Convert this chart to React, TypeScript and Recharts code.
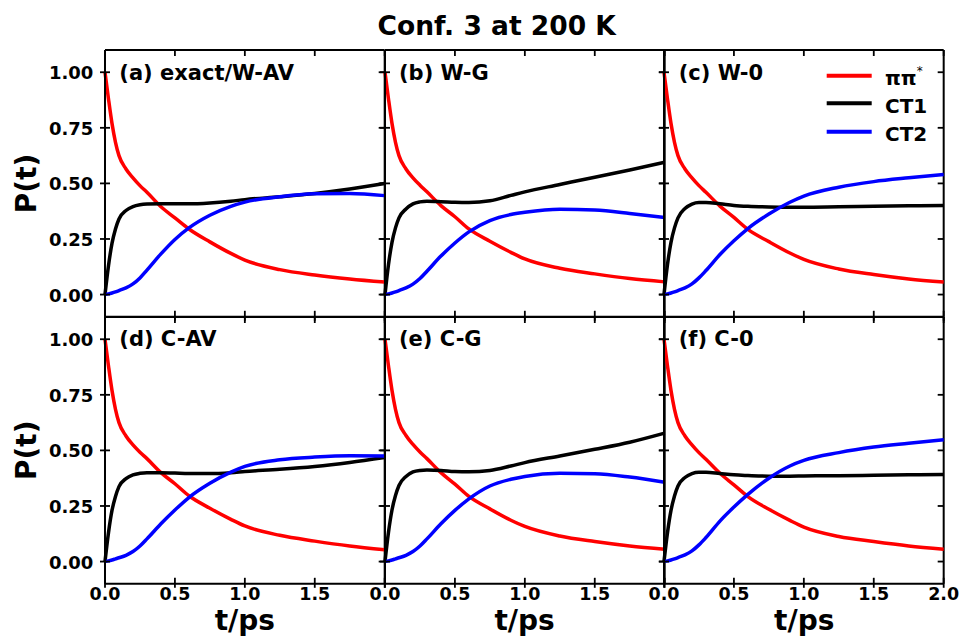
import React from "react";
import { LineChart, Line, XAxis, YAxis, ReferenceLine, Legend } from "recharts";

// time grid (ps), shared by every panel
const TIME = [0, 0.025, 0.05, 0.075, 0.1, 0.15, 0.2, 0.25, 0.3, 0.4, 0.5, 0.6, 0.75, 0.9, 1.0, 1.25, 1.5, 1.75, 2.0];

const X_TICKS = [0, 0.5, 1, 1.5, 2];
const Y_TICKS = [0, 0.25, 0.5, 0.75, 1];

// (a) exact/W-AV
const redA = [1.0, 0.88, 0.77, 0.685, 0.625, 0.565, 0.525, 0.49, 0.46, 0.395, 0.345, 0.295, 0.237, 0.185, 0.155, 0.112, 0.088, 0.07, 0.056];
const ct1A = [0, 0.13, 0.23, 0.295, 0.34, 0.378, 0.396, 0.404, 0.407, 0.408, 0.408, 0.408, 0.412, 0.42, 0.427, 0.44, 0.455, 0.475, 0.5];
const ct2A = [0, 0.003, 0.007, 0.012, 0.018, 0.03, 0.048, 0.075, 0.11, 0.183, 0.248, 0.3, 0.357, 0.397, 0.416, 0.44, 0.453, 0.455, 0.445];

// (b) W-G
const redB = [1.0, 0.88, 0.77, 0.685, 0.625, 0.565, 0.525, 0.492, 0.462, 0.4, 0.35, 0.295, 0.24, 0.19, 0.16, 0.118, 0.093, 0.072, 0.057];
const ct1B = [0, 0.135, 0.235, 0.3, 0.345, 0.385, 0.408, 0.417, 0.42, 0.418, 0.415, 0.414, 0.422, 0.446, 0.462, 0.495, 0.528, 0.56, 0.595];
const ct2B = [0, 0.003, 0.007, 0.012, 0.018, 0.03, 0.047, 0.072, 0.105, 0.173, 0.232, 0.282, 0.333, 0.36, 0.37, 0.384, 0.38, 0.365, 0.347];

// (c) W-0
const redC = [1.0, 0.88, 0.77, 0.685, 0.625, 0.565, 0.525, 0.49, 0.46, 0.398, 0.347, 0.293, 0.238, 0.187, 0.158, 0.115, 0.09, 0.07, 0.056];
const ct1C = [0, 0.135, 0.235, 0.3, 0.345, 0.387, 0.407, 0.414, 0.414, 0.408, 0.401, 0.397, 0.394, 0.393, 0.393, 0.395, 0.397, 0.399, 0.401];
const ct2C = [0, 0.003, 0.007, 0.012, 0.018, 0.03, 0.048, 0.075, 0.108, 0.18, 0.242, 0.297, 0.362, 0.415, 0.443, 0.483, 0.508, 0.525, 0.54];

// (d) C-AV
const redD = [1.0, 0.88, 0.77, 0.685, 0.625, 0.565, 0.525, 0.492, 0.463, 0.4, 0.35, 0.296, 0.24, 0.19, 0.16, 0.118, 0.092, 0.07, 0.053];
const ct1D = [0, 0.13, 0.23, 0.293, 0.337, 0.373, 0.39, 0.397, 0.4, 0.4, 0.398, 0.396, 0.396, 0.4, 0.405, 0.415, 0.428, 0.446, 0.468];
const ct2D = [0, 0.003, 0.007, 0.012, 0.017, 0.028, 0.045, 0.07, 0.102, 0.17, 0.232, 0.288, 0.352, 0.402, 0.428, 0.458, 0.47, 0.476, 0.475];

// (e) C-G
const redE = [1.0, 0.88, 0.77, 0.685, 0.625, 0.567, 0.527, 0.493, 0.463, 0.4, 0.348, 0.293, 0.237, 0.186, 0.158, 0.115, 0.09, 0.07, 0.055];
const ct1E = [0, 0.132, 0.232, 0.297, 0.342, 0.383, 0.403, 0.41, 0.412, 0.41, 0.405, 0.404, 0.41, 0.43, 0.445, 0.475, 0.505, 0.537, 0.578];
const ct2E = [0, 0.003, 0.007, 0.012, 0.017, 0.028, 0.045, 0.07, 0.102, 0.17, 0.23, 0.282, 0.34, 0.37, 0.383, 0.397, 0.395, 0.38, 0.357];

// (f) C-0
const redF = [1.0, 0.88, 0.77, 0.685, 0.625, 0.565, 0.525, 0.49, 0.46, 0.397, 0.345, 0.292, 0.235, 0.185, 0.155, 0.113, 0.09, 0.07, 0.055];
const ct1F = [0, 0.13, 0.23, 0.295, 0.34, 0.378, 0.396, 0.402, 0.402, 0.396, 0.39, 0.387, 0.384, 0.384, 0.385, 0.386, 0.388, 0.39, 0.392];
const ct2F = [0, 0.003, 0.007, 0.012, 0.018, 0.03, 0.048, 0.075, 0.108, 0.182, 0.245, 0.302, 0.375, 0.43, 0.455, 0.49, 0.515, 0.532, 0.548];

const PANEL_LABELS = ["(a) exact/W-AV", "(b) W-G", "(c) W-0", "(d) C-AV", "(e) C-G", "(f) C-0"];

const FONT = '"DejaVu Sans", Verdana, sans-serif';
const RED = "#ff0000";
const BLUE = "#0000ff";
const BLACK = "#000000";

// page geometry of the plot frames
const COL_X = [105, 384.7, 664.4];
const ROW_Y = [50, 316.8];
const PW = 279.7;
const PH = 266.8;
const YW = 70; // y axis band width
const XH = 30; // x axis band height
const ML = 10;
const MR = 17;
const MT = 12;
const MB = 10;

function LegendBox() {
  const rows = [
    { color: RED, y: 15.7, text: "ππ", sup: true },
    { color: BLACK, y: 43.3, text: "CT1" },
    { color: BLUE, y: 71.7, text: "CT2" },
  ];
  return (
    <svg width={130} height={85} style={{ display: "block" }}>
      {rows.map((r) => (
        <g key={r.text}>
          <line x1={6.7} x2={51.7} y1={r.y} y2={r.y} stroke={r.color} strokeWidth={4} />
          <text x={65} y={r.y + 9.3} fontFamily={FONT} fontWeight="bold" fontSize={20} fill="#000">
            {r.text}
            {r.sup && (
              <tspan dy={-10} fontSize={12} fontWeight="normal">*</tspan>
            )}
          </text>
        </g>
      ))}
    </svg>
  );
}

function Panel({ idx, red, ct1, ct2 }: { idx: number; red: number[]; ct1: number[]; ct2: number[] }) {
  const col = idx % 3;
  const row = Math.floor(idx / 3);
  const data = TIME.map((t, i) => ({ t, pp: red[i], ct1: ct1[i], ct2: ct2[i] }));
  const plotLeft = ML + YW;
  const bottomY = MT + PH;
  const rightX = plotLeft + PW;
  const showX = row === 1;
  const showY = col === 0;
  const chartLeft = COL_X[col] - plotLeft;
  const chartTop = ROW_Y[row] - MT;

  const xTick = (props: any) => {
    const { x, payload } = props;
    const v = payload.value;
    return (
      <g>
        <line x1={x} x2={x} y1={bottomY - 6} y2={bottomY + 4} stroke={BLACK} strokeWidth={1.8} />
        <line x1={x} x2={x} y1={MT} y2={MT + 6} stroke={BLACK} strokeWidth={1.8} />
        {showX && (col === 2 || v < 2) && (
          <text x={x} y={bottomY + 16} textAnchor="middle" fontFamily={FONT} fontWeight="bold" fontSize={17.5} fill="#000">
            {v.toFixed(1)}
          </text>
        )}
      </g>
    );
  };

  const yTick = (props: any) => {
    const { y, payload } = props;
    const v = payload.value;
    return (
      <g>
        <line x1={plotLeft - 5} x2={plotLeft + 5} y1={y} y2={y} stroke={BLACK} strokeWidth={1.8} />
        <line x1={rightX - 6} x2={rightX} y1={y} y2={y} stroke={BLACK} strokeWidth={1.8} />
        {showY && (
          <text x={plotLeft - 11.7} y={y + 7} textAnchor="end" fontFamily={FONT} fontWeight="bold" fontSize={18} fill="#000">
            {v.toFixed(2)}
          </text>
        )}
      </g>
    );
  };

  return (
    <div style={{ position: "absolute", left: chartLeft, top: chartTop }}>
      <LineChart
        width={ML + YW + PW + MR}
        height={MT + PH + XH + MB}
        data={data}
        margin={{ top: MT, right: MR, bottom: MB, left: ML }}
      >
        <XAxis
          dataKey="t"
          type="number"
          domain={[0, 2]}
          ticks={X_TICKS}
          interval={0}
          height={XH}
          tickLine={false}
          axisLine={{ stroke: BLACK, strokeWidth: 2 }}
          tick={xTick}
        />
        <YAxis
          type="number"
          domain={[-0.1, 1.1]}
          ticks={Y_TICKS}
          interval={0}
          width={YW}
          tickLine={false}
          axisLine={{ stroke: BLACK, strokeWidth: 2 }}
          tick={yTick}
        />
        <ReferenceLine y={1.1} stroke={BLACK} strokeWidth={2} />
        <ReferenceLine x={2} stroke={BLACK} strokeWidth={2} />
        <Line type="monotone" dataKey="pp" name="ππ*" stroke={RED} strokeWidth={3.5} dot={false} activeDot={false} isAnimationActive={false} />
        <Line type="monotone" dataKey="ct1" name="CT1" stroke={BLACK} strokeWidth={3.5} dot={false} activeDot={false} isAnimationActive={false} />
        <Line type="monotone" dataKey="ct2" name="CT2" stroke={BLUE} strokeWidth={3.5} dot={false} activeDot={false} isAnimationActive={false} />
        {idx === 2 && (
          <Legend
            layout="vertical"
            align="center"
            verticalAlign="middle"
            content={() => <LegendBox />}
            wrapperStyle={{ left: 820 - chartLeft, top: 60 - chartTop, width: 130, height: 85 }}
          />
        )}
      </LineChart>
    </div>
  );
}

export default function App() {
  const series = [
    [redA, ct1A, ct2A],
    [redB, ct1B, ct2B],
    [redC, ct1C, ct2C],
    [redD, ct1D, ct2D],
    [redE, ct1E, ct2E],
    [redF, ct1F, ct2F],
  ];
  return (
    <div style={{ position: "absolute", left: 0, top: 0, width: 962, height: 638, background: "#fff", overflow: "hidden" }}>
      {series.map((s, i) => (
        <Panel key={i} idx={i} red={s[0]} ct1={s[1]} ct2={s[2]} />
      ))}
      <svg width={962} height={638} style={{ position: "absolute", left: 0, top: 0, pointerEvents: "none" }}>
        <text x={496.7} y={35} textAnchor="middle" fontFamily={FONT} fontWeight="bold" fontSize={26.5} fill="#000">
          Conf. 3 at 200 K
        </text>
        {PANEL_LABELS.map((lab, i) => (
          <text key={lab} x={COL_X[i % 3] + 14.3} y={ROW_Y[Math.floor(i / 3)] + 29.5} fontFamily={FONT} fontWeight="bold" fontSize={21} fill="#000">
            {lab}
          </text>
        ))}
        {ROW_Y.map((y0) => (
          <text key={y0} x={36} y={y0 + PH / 2} transform={`rotate(-90 36 ${y0 + PH / 2})`} textAnchor="middle" fontFamily={FONT} fontWeight="bold" fontSize={28} fill="#000">
            P(t)
          </text>
        ))}
        {COL_X.map((x0) => (
          <text key={x0} x={x0 + PW / 2} y={630} textAnchor="middle" fontFamily={FONT} fontWeight="bold" fontSize={28} fill="#000">
            t/ps
          </text>
        ))}
      </svg>
    </div>
  );
}
